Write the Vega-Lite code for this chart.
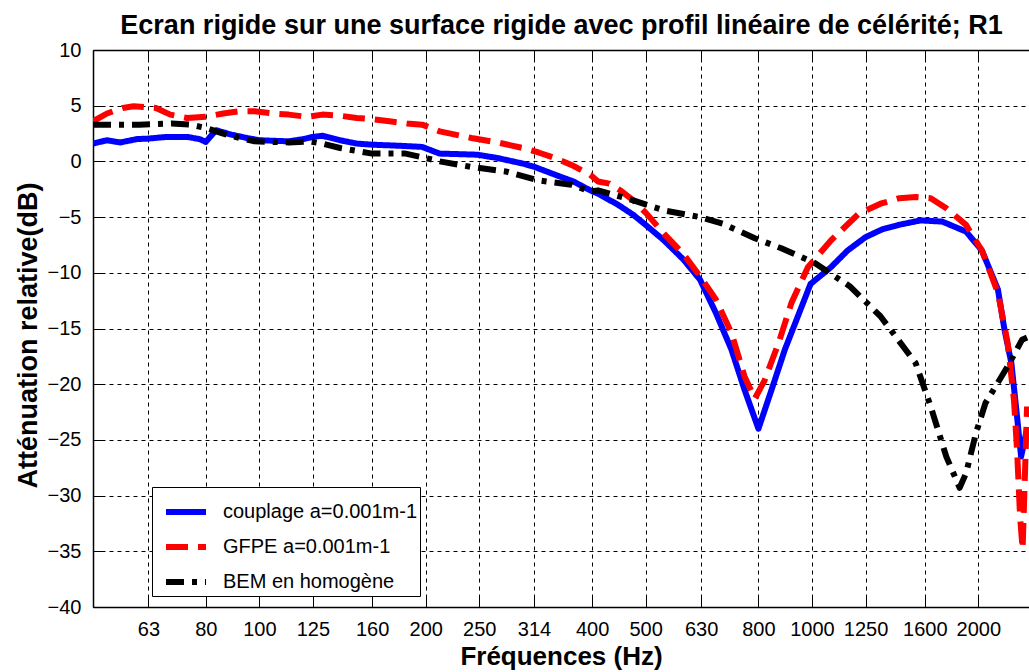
{
  "$schema": "https://vega.github.io/schema/vega-lite/v6.json",
  "width": 936,
  "height": 557,
  "autosize": {"type": "none"},
  "padding": {"left": 93, "top": 50, "right": 0, "bottom": 65},
  "background": "white",
  "config": {
    "view": {"stroke": null},
    "font": "Liberation Sans"
  },
  "data": {
    "values": [
      {"serie": "couplage a=0.001m-1", "f": 50, "db": 1.6},
      {"serie": "couplage a=0.001m-1", "f": 53, "db": 1.9},
      {"serie": "couplage a=0.001m-1", "f": 56, "db": 1.7},
      {"serie": "couplage a=0.001m-1", "f": 60, "db": 2.0},
      {"serie": "couplage a=0.001m-1", "f": 63, "db": 2.05},
      {"serie": "couplage a=0.001m-1", "f": 68, "db": 2.2},
      {"serie": "couplage a=0.001m-1", "f": 74, "db": 2.2},
      {"serie": "couplage a=0.001m-1", "f": 78, "db": 2.0},
      {"serie": "couplage a=0.001m-1", "f": 80, "db": 1.75},
      {"serie": "couplage a=0.001m-1", "f": 83.5, "db": 2.8},
      {"serie": "couplage a=0.001m-1", "f": 89, "db": 2.4},
      {"serie": "couplage a=0.001m-1", "f": 95, "db": 2.1},
      {"serie": "couplage a=0.001m-1", "f": 100, "db": 1.9},
      {"serie": "couplage a=0.001m-1", "f": 113, "db": 1.8},
      {"serie": "couplage a=0.001m-1", "f": 120, "db": 2.0},
      {"serie": "couplage a=0.001m-1", "f": 125, "db": 2.2},
      {"serie": "couplage a=0.001m-1", "f": 130, "db": 2.3},
      {"serie": "couplage a=0.001m-1", "f": 140, "db": 1.9},
      {"serie": "couplage a=0.001m-1", "f": 150, "db": 1.6},
      {"serie": "couplage a=0.001m-1", "f": 160, "db": 1.5},
      {"serie": "couplage a=0.001m-1", "f": 180, "db": 1.4},
      {"serie": "couplage a=0.001m-1", "f": 197, "db": 1.3},
      {"serie": "couplage a=0.001m-1", "f": 212, "db": 0.7},
      {"serie": "couplage a=0.001m-1", "f": 230, "db": 0.65},
      {"serie": "couplage a=0.001m-1", "f": 248, "db": 0.6},
      {"serie": "couplage a=0.001m-1", "f": 270, "db": 0.3},
      {"serie": "couplage a=0.001m-1", "f": 300, "db": -0.2},
      {"serie": "couplage a=0.001m-1", "f": 315, "db": -0.5},
      {"serie": "couplage a=0.001m-1", "f": 343, "db": -1.2},
      {"serie": "couplage a=0.001m-1", "f": 370, "db": -1.8},
      {"serie": "couplage a=0.001m-1", "f": 397, "db": -2.6},
      {"serie": "couplage a=0.001m-1", "f": 410, "db": -2.9},
      {"serie": "couplage a=0.001m-1", "f": 446, "db": -3.9},
      {"serie": "couplage a=0.001m-1", "f": 475, "db": -4.8},
      {"serie": "couplage a=0.001m-1", "f": 500, "db": -5.7},
      {"serie": "couplage a=0.001m-1", "f": 540, "db": -7.1},
      {"serie": "couplage a=0.001m-1", "f": 585, "db": -8.8},
      {"serie": "couplage a=0.001m-1", "f": 627, "db": -10.6},
      {"serie": "couplage a=0.001m-1", "f": 670, "db": -13.6},
      {"serie": "couplage a=0.001m-1", "f": 715, "db": -16.9},
      {"serie": "couplage a=0.001m-1", "f": 755, "db": -20.5},
      {"serie": "couplage a=0.001m-1", "f": 800, "db": -24.0},
      {"serie": "couplage a=0.001m-1", "f": 845, "db": -20.5},
      {"serie": "couplage a=0.001m-1", "f": 893, "db": -16.9},
      {"serie": "couplage a=0.001m-1", "f": 943, "db": -13.9},
      {"serie": "couplage a=0.001m-1", "f": 994, "db": -11.0},
      {"serie": "couplage a=0.001m-1", "f": 1082, "db": -9.5},
      {"serie": "couplage a=0.001m-1", "f": 1160, "db": -8.0},
      {"serie": "couplage a=0.001m-1", "f": 1250, "db": -6.8},
      {"serie": "couplage a=0.001m-1", "f": 1340, "db": -6.1},
      {"serie": "couplage a=0.001m-1", "f": 1435, "db": -5.7},
      {"serie": "couplage a=0.001m-1", "f": 1570, "db": -5.3},
      {"serie": "couplage a=0.001m-1", "f": 1720, "db": -5.4},
      {"serie": "couplage a=0.001m-1", "f": 1900, "db": -6.3},
      {"serie": "couplage a=0.001m-1", "f": 2030, "db": -8.0},
      {"serie": "couplage a=0.001m-1", "f": 2170, "db": -11.5},
      {"serie": "couplage a=0.001m-1", "f": 2230, "db": -15.1},
      {"serie": "couplage a=0.001m-1", "f": 2295, "db": -18.1},
      {"serie": "couplage a=0.001m-1", "f": 2350, "db": -22.9},
      {"serie": "couplage a=0.001m-1", "f": 2390, "db": -26.5},
      {"serie": "couplage a=0.001m-1", "f": 2450, "db": -24.0},

      {"serie": "GFPE a=0.001m-1", "f": 50, "db": 3.6},
      {"serie": "GFPE a=0.001m-1", "f": 53, "db": 4.3},
      {"serie": "GFPE a=0.001m-1", "f": 56.6, "db": 4.8},
      {"serie": "GFPE a=0.001m-1", "f": 59.2, "db": 4.95},
      {"serie": "GFPE a=0.001m-1", "f": 65, "db": 4.8},
      {"serie": "GFPE a=0.001m-1", "f": 69, "db": 4.2},
      {"serie": "GFPE a=0.001m-1", "f": 74, "db": 3.9},
      {"serie": "GFPE a=0.001m-1", "f": 80, "db": 4.0},
      {"serie": "GFPE a=0.001m-1", "f": 86, "db": 4.3},
      {"serie": "GFPE a=0.001m-1", "f": 92, "db": 4.5},
      {"serie": "GFPE a=0.001m-1", "f": 98, "db": 4.5},
      {"serie": "GFPE a=0.001m-1", "f": 106, "db": 4.3},
      {"serie": "GFPE a=0.001m-1", "f": 113, "db": 4.2},
      {"serie": "GFPE a=0.001m-1", "f": 122, "db": 4.0},
      {"serie": "GFPE a=0.001m-1", "f": 130, "db": 4.2},
      {"serie": "GFPE a=0.001m-1", "f": 140, "db": 4.1},
      {"serie": "GFPE a=0.001m-1", "f": 150, "db": 3.9},
      {"serie": "GFPE a=0.001m-1", "f": 160, "db": 3.8},
      {"serie": "GFPE a=0.001m-1", "f": 172, "db": 3.6},
      {"serie": "GFPE a=0.001m-1", "f": 185, "db": 3.4},
      {"serie": "GFPE a=0.001m-1", "f": 197, "db": 3.3},
      {"serie": "GFPE a=0.001m-1", "f": 212, "db": 2.7},
      {"serie": "GFPE a=0.001m-1", "f": 242, "db": 2.1},
      {"serie": "GFPE a=0.001m-1", "f": 270, "db": 1.7},
      {"serie": "GFPE a=0.001m-1", "f": 300, "db": 1.2},
      {"serie": "GFPE a=0.001m-1", "f": 320, "db": 0.8},
      {"serie": "GFPE a=0.001m-1", "f": 343, "db": 0.3},
      {"serie": "GFPE a=0.001m-1", "f": 370, "db": -0.4},
      {"serie": "GFPE a=0.001m-1", "f": 397, "db": -1.2},
      {"serie": "GFPE a=0.001m-1", "f": 410, "db": -1.8},
      {"serie": "GFPE a=0.001m-1", "f": 430, "db": -2.0},
      {"serie": "GFPE a=0.001m-1", "f": 450, "db": -2.6},
      {"serie": "GFPE a=0.001m-1", "f": 475, "db": -3.5},
      {"serie": "GFPE a=0.001m-1", "f": 500, "db": -4.6},
      {"serie": "GFPE a=0.001m-1", "f": 540, "db": -6.5},
      {"serie": "GFPE a=0.001m-1", "f": 585, "db": -8.3},
      {"serie": "GFPE a=0.001m-1", "f": 627, "db": -10.3},
      {"serie": "GFPE a=0.001m-1", "f": 670, "db": -12.4},
      {"serie": "GFPE a=0.001m-1", "f": 715, "db": -15.4},
      {"serie": "GFPE a=0.001m-1", "f": 755, "db": -19.3},
      {"serie": "GFPE a=0.001m-1", "f": 788, "db": -21.3},
      {"serie": "GFPE a=0.001m-1", "f": 820, "db": -19.7},
      {"serie": "GFPE a=0.001m-1", "f": 870, "db": -16.3},
      {"serie": "GFPE a=0.001m-1", "f": 918, "db": -12.7},
      {"serie": "GFPE a=0.001m-1", "f": 983, "db": -9.5},
      {"serie": "GFPE a=0.001m-1", "f": 1082, "db": -7.1},
      {"serie": "GFPE a=0.001m-1", "f": 1215, "db": -4.7},
      {"serie": "GFPE a=0.001m-1", "f": 1330, "db": -3.8},
      {"serie": "GFPE a=0.001m-1", "f": 1440, "db": -3.3},
      {"serie": "GFPE a=0.001m-1", "f": 1540, "db": -3.2},
      {"serie": "GFPE a=0.001m-1", "f": 1640, "db": -3.3},
      {"serie": "GFPE a=0.001m-1", "f": 1750, "db": -4.2},
      {"serie": "GFPE a=0.001m-1", "f": 1900, "db": -5.7},
      {"serie": "GFPE a=0.001m-1", "f": 2030, "db": -8.0},
      {"serie": "GFPE a=0.001m-1", "f": 2170, "db": -11.8},
      {"serie": "GFPE a=0.001m-1", "f": 2260, "db": -16.3},
      {"serie": "GFPE a=0.001m-1", "f": 2320, "db": -21.4},
      {"serie": "GFPE a=0.001m-1", "f": 2350, "db": -25.9},
      {"serie": "GFPE a=0.001m-1", "f": 2380, "db": -31.9},
      {"serie": "GFPE a=0.001m-1", "f": 2405, "db": -34.8},
      {"serie": "GFPE a=0.001m-1", "f": 2450, "db": -22.0},

      {"serie": "BEM en homogène", "f": 50, "db": 3.3},
      {"serie": "BEM en homogène", "f": 60.6, "db": 3.3},
      {"serie": "BEM en homogène", "f": 69.4, "db": 3.4},
      {"serie": "BEM en homogène", "f": 75, "db": 3.3},
      {"serie": "BEM en homogène", "f": 80, "db": 3.0},
      {"serie": "BEM en homogène", "f": 86, "db": 2.5},
      {"serie": "BEM en homogène", "f": 92, "db": 2.1},
      {"serie": "BEM en homogène", "f": 98, "db": 1.8},
      {"serie": "BEM en homogène", "f": 113, "db": 1.7},
      {"serie": "BEM en homogène", "f": 123, "db": 1.8},
      {"serie": "BEM en homogène", "f": 130, "db": 1.6},
      {"serie": "BEM en homogène", "f": 140, "db": 1.2},
      {"serie": "BEM en homogène", "f": 160, "db": 0.7},
      {"serie": "BEM en homogène", "f": 184, "db": 0.7},
      {"serie": "BEM en homogène", "f": 200, "db": 0.3},
      {"serie": "BEM en homogène", "f": 212, "db": 0.0},
      {"serie": "BEM en homogène", "f": 242, "db": -0.5},
      {"serie": "BEM en homogène", "f": 279, "db": -0.9},
      {"serie": "BEM en homogène", "f": 320, "db": -1.7},
      {"serie": "BEM en homogène", "f": 367, "db": -2.1},
      {"serie": "BEM en homogène", "f": 397, "db": -2.7},
      {"serie": "BEM en homogène", "f": 410, "db": -2.6},
      {"serie": "BEM en homogène", "f": 475, "db": -3.5},
      {"serie": "BEM en homogène", "f": 540, "db": -4.4},
      {"serie": "BEM en homogène", "f": 627, "db": -5.0},
      {"serie": "BEM en homogène", "f": 690, "db": -5.6},
      {"serie": "BEM en homogène", "f": 788, "db": -6.9},
      {"serie": "BEM en homogène", "f": 880, "db": -7.8},
      {"serie": "BEM en homogène", "f": 1010, "db": -9.1},
      {"serie": "BEM en homogène", "f": 1170, "db": -11.2},
      {"serie": "BEM en homogène", "f": 1330, "db": -13.9},
      {"serie": "BEM en homogène", "f": 1540, "db": -18.1},
      {"serie": "BEM en homogène", "f": 1640, "db": -22.0},
      {"serie": "BEM en homogène", "f": 1750, "db": -26.5},
      {"serie": "BEM en homogène", "f": 1850, "db": -29.3},
      {"serie": "BEM en homogène", "f": 1900, "db": -28.0},
      {"serie": "BEM en homogène", "f": 1980, "db": -24.4},
      {"serie": "BEM en homogène", "f": 2060, "db": -21.7},
      {"serie": "BEM en homogène", "f": 2260, "db": -18.4},
      {"serie": "BEM en homogène", "f": 2400, "db": -16.0},
      {"serie": "BEM en homogène", "f": 2450, "db": -15.8}
    ]
  },
  "layer": [
    {
      "mark": {"type": "line", "strokeWidth": 6, "clip": true, "strokeCap": "butt", "strokeJoin": "round"},
      "encoding": {
        "x": {
          "field": "f",
          "type": "quantitative",
          "scale": {"type": "log", "domain": [50, 2470], "nice": false},
          "axis": {
            "orient": "bottom",
            "values": [63, 80, 100, 125, 160, 200, 250, 314, 400, 500, 630, 800, 1000, 1250, 1600, 2000],
            "format": "d",
            "labelFont": "Liberation Sans",
            "labelFontSize": 20,
            "labelColor": "black",
            "labelPadding": 22,
            "labelFlush": false,
            "labelOverlap": false,
            "tickSize": -10,
            "tickColor": "black",
            "tickWidth": 1,
            "domainColor": "black",
            "domainWidth": 1.5,
            "grid": true,
            "gridColor": "black",
            "gridDash": [4, 4],
            "gridOpacity": 1,
            "gridWidth": 1,
            "title": "Fréquences (Hz)",
            "titleFont": "Liberation Sans",
            "titleFontSize": 26,
            "titleFontWeight": "bold",
            "titleColor": "black",
            "titleBaseline": "alphabetic",
            "titleY": 57
          }
        },
        "y": {
          "field": "db",
          "type": "quantitative",
          "scale": {"domain": [-40, 10], "nice": false},
          "axis": {
            "values": [-40, -35, -30, -25, -20, -15, -10, -5, 0, 5, 10],
            "labelFont": "Liberation Sans",
            "labelFontSize": 20,
            "labelColor": "black",
            "labelPadding": 22,
            "tickSize": -10,
            "tickColor": "black",
            "tickWidth": 1,
            "domainColor": "black",
            "domainWidth": 1.5,
            "grid": true,
            "gridColor": "black",
            "gridDash": [4, 4],
            "gridOpacity": 1,
            "gridWidth": 1,
            "title": "Atténuation relative(dB)",
            "titleFont": "Liberation Sans",
            "titleFontSize": 27,
            "titleFontWeight": "bold",
            "titleColor": "black",
            "titleAngle": -90,
            "titleBaseline": "alphabetic",
            "titleAlign": "center",
            "titleX": -57,
            "titleY": 285
          }
        },
        "color": {
          "field": "serie",
          "type": "nominal",
          "scale": {
            "domain": ["couplage a=0.001m-1", "GFPE a=0.001m-1", "BEM en homogène"],
            "range": ["#0000ff", "#ff0000", "#000000"]
          },
          "legend": {
            "title": null,
            "orient": "none",
            "legendX": 59,
            "legendY": 437,
            "fillColor": "white",
            "strokeColor": "black",
            "padding": 2,
            "rowPadding": -16,
            "labelFont": "Liberation Sans",
            "labelFontSize": 20,
            "labelColor": "black",
            "labelLimit": 400,
            "labelOffset": 14,
            "symbolOffset": 9,
            "symbolSize": 1600,
            "symbolStrokeWidth": 6,
            "symbolType": "stroke"
          }
        },
        "strokeDash": {
          "field": "serie",
          "type": "nominal",
          "scale": {
            "domain": ["couplage a=0.001m-1", "GFPE a=0.001m-1", "BEM en homogène"],
            "range": [[1, 0], [22, 10], [18, 8, 5, 8]]
          },
          "legend": {
            "title": null,
            "orient": "none",
            "legendX": 59,
            "legendY": 437,
            "fillColor": "white",
            "strokeColor": "black",
            "padding": 2,
            "rowPadding": -16,
            "labelFont": "Liberation Sans",
            "labelFontSize": 20,
            "labelColor": "black",
            "labelLimit": 400,
            "labelOffset": 14,
            "symbolOffset": 9,
            "symbolSize": 1600,
            "symbolStrokeWidth": 6,
            "symbolType": "stroke"
          }
        }
      }
    },
    {
      "mark": {"type": "line", "opacity": 0},
      "encoding": {
        "x": {
          "field": "f",
          "type": "quantitative",
          "axis": {
            "orient": "top",
            "values": [63, 80, 100, 125, 160, 200, 250, 314, 400, 500, 630, 800, 1000, 1250, 1600, 2000],
            "labels": false,
            "tickSize": -10,
            "tickColor": "black",
            "tickWidth": 1,
            "domainColor": "black",
            "domainWidth": 1.5,
            "grid": false,
            "title": "Ecran rigide sur une surface rigide avec profil linéaire de célérité; R1",
            "titleFont": "Liberation Sans",
            "titleFontSize": 27,
            "titleFontWeight": "bold",
            "titleColor": "black",
            "titleBaseline": "alphabetic",
            "titleAlign": "center",
            "titleX": 468,
            "titleY": -17
          }
        },
        "y": {"field": "db", "type": "quantitative", "axis": null},
        "detail": {"field": "serie"}
      }
    }
  ],
  "resolve": {"axis": {"x": "independent", "y": "independent"}}
}
